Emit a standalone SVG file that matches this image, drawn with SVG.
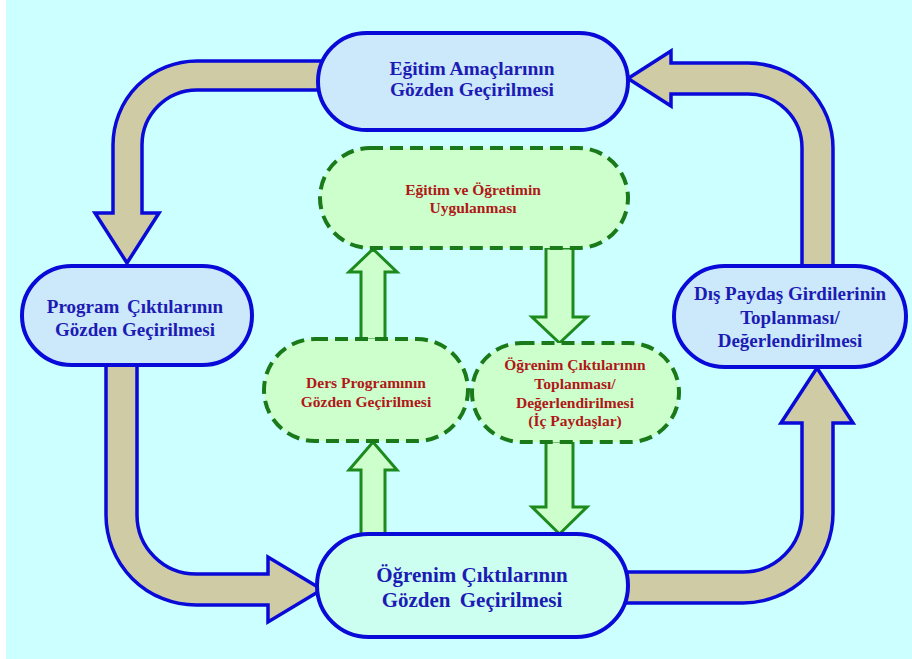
<svg xmlns="http://www.w3.org/2000/svg" width="912" height="659" viewBox="0 0 912 659">
<style>
.bg{fill:#ccffff}
.tan{fill:#cfcba4;stroke:#0a0ad8;stroke-width:3.5;stroke-linejoin:miter}
.garr{fill:#ccffcc;stroke:#1d8a1d;stroke-width:3}
.bnode{fill:#cce8fb;stroke:#0a0ad8;stroke-width:4}
.onode{fill:#ccfff0;stroke:#0a0ad8;stroke-width:4}
.gnode{fill:#ccffcc;stroke:#1a7a1a;stroke-width:4;stroke-dasharray:13 7}
.bt{font-family:"Liberation Serif","Times New Roman",serif;font-weight:bold;fill:#1c1cb4;text-anchor:middle}
.rt{font-family:"Liberation Serif","Times New Roman",serif;font-weight:bold;fill:#b01818;text-anchor:middle;font-size:15.5px}
</style>
<rect x="0" y="0" width="912" height="659" fill="#ffffff"/>
<rect class="bg" x="6" y="0" width="906" height="659"/>
<g id="connectors">
<path class="tan" d="M330,61 H197 A84,84 0 0 0 113,145 V213 H95 L127,263 L159,213 H142 V145 A55,55 0 0 1 197,90 H330 Z"/>
<path class="tan" d="M833,280 V148 A85,85 0 0 0 748,63 H671 V51 L628,78.5 L671,106 V94 H748 A54,54 0 0 1 802,148 V280 Z"/>
<path class="tan" d="M106,350 V515 A90,90 0 0 0 196,605 H268 V622 L322,589.5 L268,557 V574 H196 A59,59 0 0 1 137,515 V350 Z"/>
<path class="tan" d="M600,572 H743 A59,59 0 0 0 802,513 V423 H781 L817,368 L853,423 H833 V513 A90,90 0 0 1 743,603 H600 Z"/>
<path class="garr" d="M361,340 V272 H349 L373,249 L397,272 H385 V340 Z"/>
<path class="garr" d="M546,248 V317 H532 L559.5,343 L587,317 H573 V248 Z"/>
<path class="garr" d="M361,537 V470 H349 L373,442 L397,470 H385 V537 Z"/>
<path class="garr" d="M546,441 V507 H532 L559.5,534 L587,507 H573 V441 Z"/>
</g>
<g id="n-egitim-amac">
<rect class="bnode" x="318" y="33" width="310" height="97" rx="48.5"/>
<text class="bt" font-size="19.5" x="472" y="75">Eğitim Amaçlarının</text>
<text class="bt" font-size="19.5" x="472" y="96">Gözden Geçirilmesi</text>
</g>
<g id="n-program">
<rect class="bnode" x="22" y="266" width="230" height="99" rx="49.5"/>
<text class="bt" font-size="19" x="135" y="313" word-spacing="3">Program Çıktılarının</text>
<text class="bt" font-size="19" x="135" y="336">Gözden Geçirilmesi</text>
</g>
<g id="n-dis-paydas">
<rect class="bnode" x="674" y="266" width="232" height="101" rx="50.5"/>
<text class="bt" font-size="19" x="790" y="300">Dış Paydaş Girdilerinin</text>
<text class="bt" font-size="19" x="790" y="324">Toplanması/</text>
<text class="bt" font-size="19" x="790" y="347">Değerlendirilmesi</text>
</g>
<g id="n-ogrenim-gozden">
<rect class="onode" x="317" y="534" width="311" height="103" rx="51.5"/>
<text class="bt" font-size="21" x="472" y="582">Öğrenim Çıktılarının</text>
<text class="bt" font-size="21" x="472" y="607" word-spacing="4">Gözden Geçirilmesi</text>
</g>
<g id="n-uygulama">
<rect class="gnode" x="320" y="148" width="308" height="100" rx="50"/>
<text class="rt" x="473" y="195">Eğitim ve Öğretimin</text>
<text class="rt" x="473" y="213">Uygulanması</text>
</g>
<g id="n-ders">
<rect class="gnode" x="264" y="339" width="204" height="102" rx="51"/>
<text class="rt" x="366" y="388">Ders Programının</text>
<text class="rt" x="366" y="407">Gözden Geçirilmesi</text>
</g>
<g id="n-ogrenim-toplama">
<rect class="gnode" x="472" y="343" width="207" height="99" rx="49.5"/>
<text class="rt" x="575" y="370">Öğrenim Çıktılarının</text>
<text class="rt" x="575" y="389">Toplanması/</text>
<text class="rt" x="575" y="408">Değerlendirilmesi</text>
<text class="rt" x="575" y="426">(İç Paydaşlar)</text>
</g>
</svg>
